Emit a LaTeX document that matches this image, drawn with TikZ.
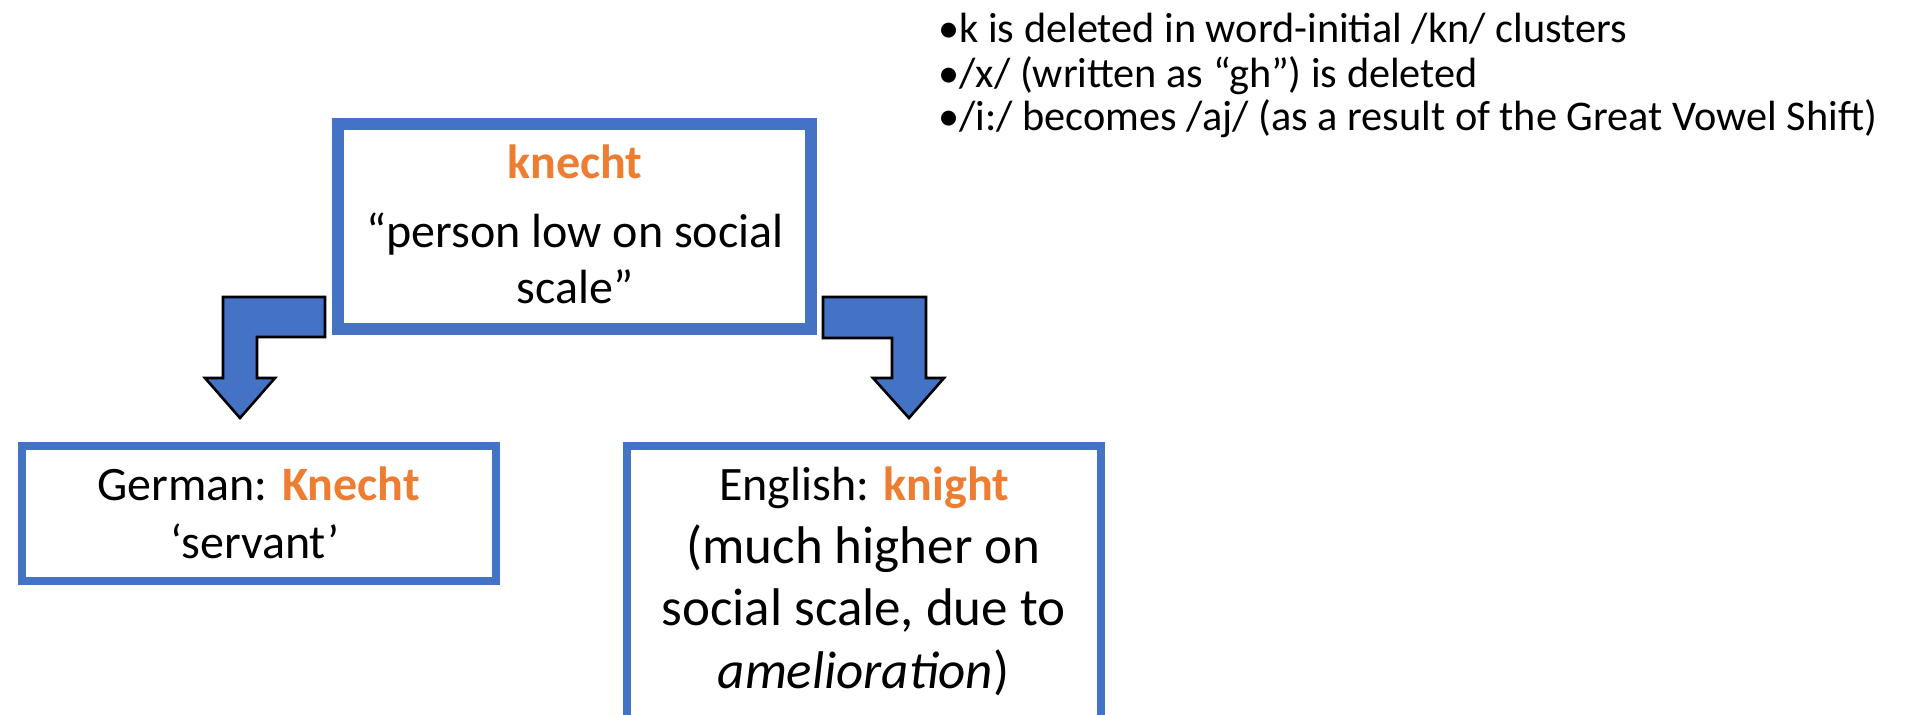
\documentclass[tikz,border=0pt]{standalone}
\usepackage{fontspec}
\setmainfont{Carlito}
\definecolor{officeblue}{HTML}{4472C4}
\definecolor{officeorange}{HTML}{ED7D31}
% orange bold headword
\newcommand\headword[1]{{\bfseries\textcolor{officeorange}{#1}}}
\begin{document}
\begin{tikzpicture}[x=0.5pt,y=-0.5pt,
  thickbox/.style={draw=officeblue,line width=6pt,fill=white,inner sep=0pt},
  thinbox/.style={draw=officeblue,line width=4pt,fill=white,inner sep=0pt},
  bentarrow/.style={draw=black,line width=1.3pt,fill=officeblue,line join=miter},
  linetop/.style={anchor=base,inner sep=0pt,font=\fontsize{24}{28}\selectfont},
  linegerman/.style={anchor=base,inner sep=0pt,font=\fontsize{24}{28}\selectfont},
  lineenglish/.style={anchor=base,inner sep=0pt,font=\fontsize{26.5}{31}\selectfont},
  bulletline/.style={anchor=base west,inner sep=0pt,font=\fontsize{21.15}{25}\selectfont}]
\useasboundingbox (0,0) rectangle (1913,714);
\clip (0,0) rectangle (1913,714);

% bullet list of sound changes
\node[bulletline] (b1) at (938,42) {•k is deleted in word-initial /kn/ clusters};
\node[bulletline] (b2) at (938,87) {•/x/ (written as “gh”) is deleted};
\node[bulletline] (b3) at (938,130) {•/i:/ becomes /aj/ (as a result of the Great Vowel Shift)};

% source word
\node[thickbox,minimum width=236.5pt,minimum height=102.75pt] (src) at (574.5,226.25) {};
\node[linetop] (srcword) at (575,178) {\headword{knecht}};
\node[linetop] (srcgloss1) at (575,247) {“person low on social};
\node[linetop] (srcgloss2) at (575,303) {scale”};

% German outcome
\node[thinbox,minimum width=237pt,minimum height=67.5pt] (de) at (259,513.5) {};
\node[linegerman] (deword) at (258.5,500) {German: \headword{Knecht}};
\node[linegerman] (degloss) at (255,558) {‘servant’};

% English outcome (box runs past the lower edge)
\node[thinbox,minimum width=237pt,minimum height=172pt] (en) at (864,618) {};
\node[linegerman] (enword) at (864,500) {English: \headword{knight}};
\node[lineenglish] (engloss1) at (863.5,563) {(much higher on};
\node[lineenglish] (engloss2) at (863.5,625) {social scale, due to};
\node[lineenglish] (engloss3) at (863.5,688) {\textit{amelioration})};

% bent block arrows from the source box to each outcome
\draw[bentarrow] (325,297) -- (223,297) -- (223,378) -- (205,378) -- (240,418)
  -- (275,378) -- (257,378) -- (257,337) -- (325,337) -- cycle;
\draw[bentarrow] (823,297) -- (926,297) -- (926,378) -- (944,378) -- (909,418)
  -- (873,378) -- (892,378) -- (892,338) -- (823,338) -- cycle;
\end{tikzpicture}
\end{document}
